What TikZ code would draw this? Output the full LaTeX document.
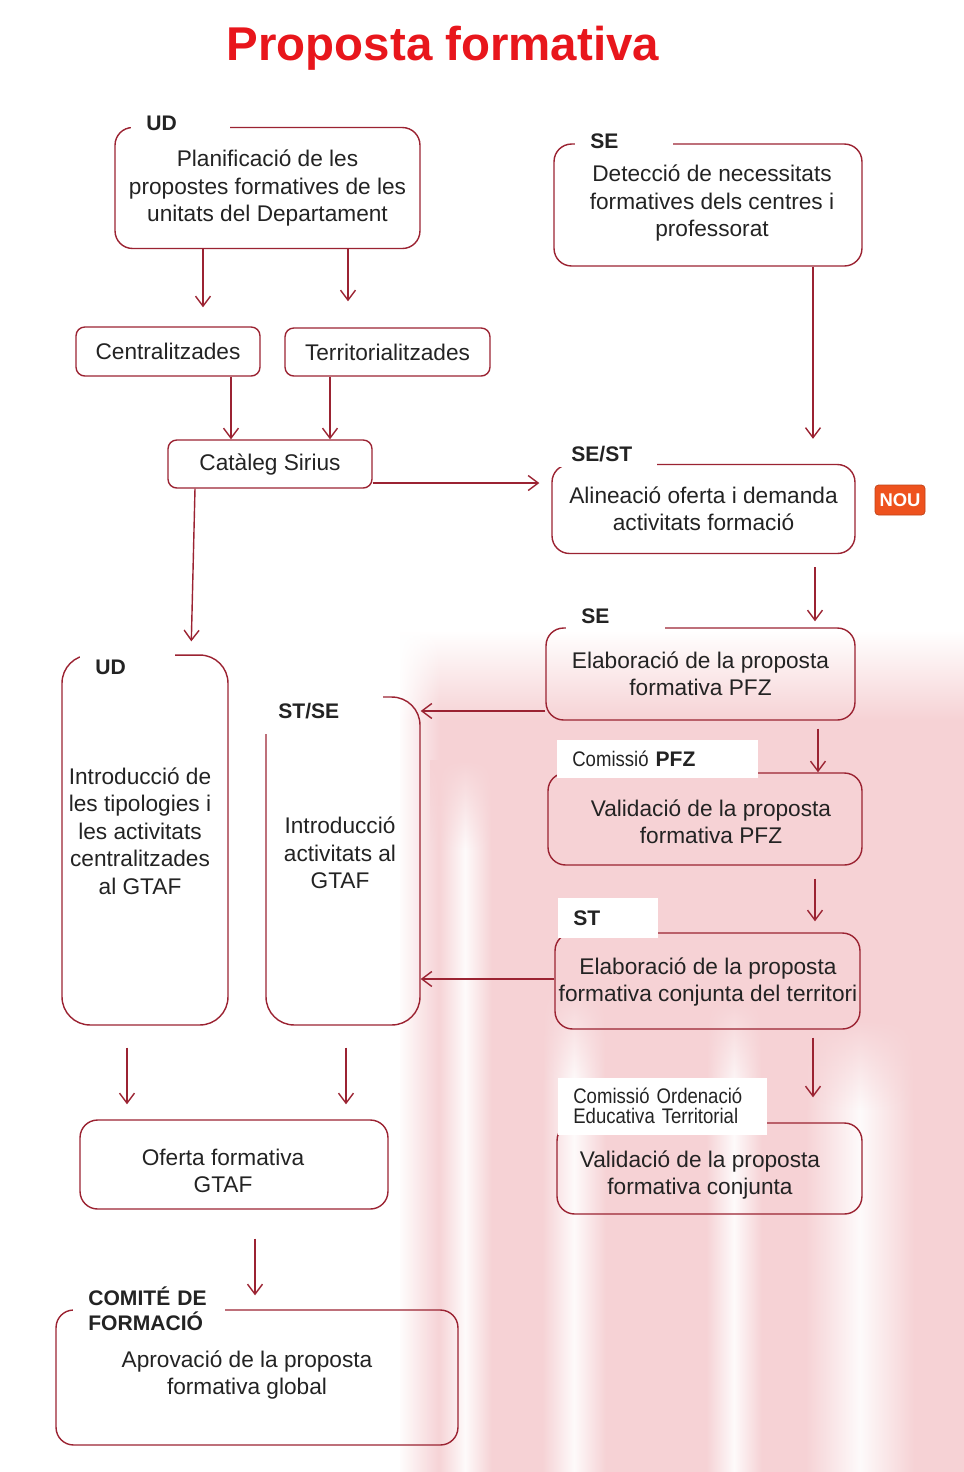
\documentclass[tikz,border=0pt]{standalone}
\usepackage{fontspec}
\setmainfont{Liberation Sans}
\newfontfamily\narrowsf[FakeStretch=0.88]{Liberation Sans}
\usetikzlibrary{arrows.meta,fadings}
\definecolor{boxred}{RGB}{155,35,50}
\definecolor{titred}{RGB}{232,22,28}
\definecolor{noufill}{RGB}{238,82,30}
\definecolor{txt}{RGB}{35,35,35}
\definecolor{wmpink}{RGB}{246,210,213}
\tikzfading[name=fadeleft, left color=transparent!0, right color=transparent!100]
\tikzfading[name=fadeup, top color=transparent!0, bottom color=transparent!100]
\tikzfading[name=fadeband, left color=transparent!100, right color=transparent!100, middle color=transparent!0]

\begin{document}
\begin{tikzpicture}[x=0.02cm,y=-0.02cm,
    box/.style={draw=boxred, line width=0.8pt, rounded corners=10pt, align=center, inner sep=0pt, text=txt, font=\fontsize{12.9}{15.6}\selectfont},
    small/.style={box, rounded corners=5pt},
    tall/.style={box, rounded corners=16pt},
    inbox/.style={align=center, inner sep=0pt, text=txt, font=\fontsize{12.9}{15.6}\selectfont},
    tab/.style={fill=white, inner xsep=0.3cm, inner ysep=3pt, align=left, anchor=west, text=txt, font=\fontsize{12}{14}\selectfont\bfseries},
    arr/.style={-{Straight Barb[length=2mm,width=3mm]}, draw=boxred, line width=0.8pt},
    streak/.style={fill=white, fill opacity=0.9, path fading=fadeband},
    streaktop/.style={fill=wmpink, path fading=fadeup}]

    \useasboundingbox (0,0) rectangle (964,1472);

    % fons
    \shade[top color=white, bottom color=wmpink] (400,630) rectangle (964,720);
    \fill[wmpink] (400,720) rectangle (964,1472);
    \fill[white, path fading=fadeleft] (398,630) rectangle (440,1472);
    \fill[streak] (438,760) rectangle (492,1472);
    \fill[streak] (542,990) rectangle (606,1472);
    \fill[streak] (706,1000) rectangle (762,1472);
    \fill[streak] (805,1020) rectangle (915,1472);
    \fill[streaktop] (430,760) rectangle (500,850);
    \fill[streaktop] (535,990) rectangle (615,1080);
    \fill[streaktop] (700,1000) rectangle (770,1090);
    \fill[streaktop] (800,1020) rectangle (920,1110);

    \node[text=titred, font=\fontsize{27}{30}\selectfont\bfseries] (title) at (443,48) {Proposta formativa};

    % columna esquerra
    \node[box, minimum width=6.10cm, minimum height=2.42cm] (plan) at (267.5,188) {Planificació de les\\propostes formatives de les\\unitats del Departament};
    \node[tab, text width=1.38cm] (tplan) at (131,123) {UD};

    \node[small, minimum width=3.68cm, minimum height=0.98cm] (cen) at (168,351.5) {Centralitzades};
    \node[small, minimum width=4.10cm, minimum height=0.96cm] (ter) at (387.5,352) {Territorialitzades};
    \node[small, minimum width=4.08cm, minimum height=0.96cm] (cat) at (270,464) {Catàleg Sirius};

    \node[tall, minimum width=3.32cm, minimum height=7.40cm] (intc) at (145,840) {};
    \node[inbox] (intct) at (140,831) {Introducció de\\les tipologies i\\les activitats\\centralitzades\\al GTAF};
    \node[tab, text width=1.30cm] (tintc) at (80,667) {UD};
    \node[tall, minimum width=3.08cm, minimum height=6.56cm] (intt) at (343,861) {};
    \node[inbox] (inttt) at (340,853) {Introducció\\activitats al\\GTAF};
    \node[tab, text width=1.80cm, minimum height=0.9cm] (tintt) at (263,711) {ST/SE};

    \node[box, minimum width=6.16cm, minimum height=1.78cm] (ofer) at (234,1164.5) {};
    \node[inbox] (ofert) at (223,1171) {Oferta formativa\\GTAF};
    \node[box, minimum width=8.04cm, minimum height=2.70cm] (apro) at (257,1377.5) {};
    \node[inbox] (aprot) at (247,1375) {Aprovació de la proposta\\formativa global};
    \node[tab, text width=2.44cm, minimum height=1.0cm] (tapro) at (73,1309) {COMITÉ DE\\FORMACIÓ};

    % columna dreta
    \node[box, minimum width=6.16cm, minimum height=2.44cm] (detec) at (708,205) {};
    \node[inbox] (detect) at (712,203) {Detecció de necessitats\\formatives dels centres i\\professorat};
    \node[tab, text width=1.36cm] (tdetec) at (575,141) {SE};

    \node[box, minimum width=6.06cm, minimum height=1.78cm] (alin) at (703.5,509) {Alineació oferta i demanda\\activitats formació};
    \node[tab, text width=1.42cm] (talin) at (556,454) {SE/ST};
    \node[fill=noufill, draw=noufill!80!black, line width=0.4pt, rounded corners=2pt, text=white, inner sep=0pt,
          minimum width=1.0cm, minimum height=0.6cm, font=\fontsize{10.5}{12}\selectfont\bfseries] (nou) at (900,500) {NOU};

    \node[box, minimum width=6.18cm, minimum height=1.84cm] (elab) at (700.5,674) {Elaboració de la proposta\\formativa PFZ};
    \node[tab, text width=1.38cm] (telab) at (566,616) {SE};

    \node[box, minimum width=6.28cm, minimum height=1.84cm] (valp) at (705,819) {};
    \node[inbox] (valpt) at (711,822) {Validació de la proposta\\formativa PFZ};
    \node[tab, text width=3.42cm, minimum height=0.76cm, font=\fontsize{12}{14}\selectfont] (tvalp) at (557,759) {{\narrowsf Comissió} \textbf{PFZ}};

    \node[box, minimum width=6.10cm, minimum height=1.92cm] (elabc) at (707.5,981) {};
    \node[inbox] (elabct) at (708,982) {Elaboració de la proposta\\formativa conjunta del territori};
    \node[tab, text width=1.40cm, minimum height=0.8cm] (telabc) at (558,918) {ST};

    \node[box, minimum width=6.10cm, minimum height=1.82cm] (valc) at (709.5,1168.5) {};
    \node[inbox] (valct) at (700,1175) {Validació de la proposta\\formativa conjunta};
    \node[tab, text width=3.58cm, minimum height=1.14cm, font=\fontsize{12}{11.2}\narrowsf] (tvalc) at (558,1106) {Comissió Ordenació\\Educativa Territorial};

    % fletxes
    \draw[arr, shorten >=0.38cm] (plan.south -| 203,0) -- (cen.north -| 203,0);
    \draw[arr, shorten >=0.52cm] (plan.south -| 348,0) -- (ter.north -| 348,0);
    \draw[arr] (cen.south -| 231,0) -- (cat.north -| 231,0);
    \draw[arr] (ter.south -| 330,0) -- (cat.north -| 330,0);
    \draw[arr, shorten >=0.5cm] (detec.south -| 813,0) -- (alin.north -| 813,0);
    \draw[arr, shorten >=0.24cm] (cat.east |- 0,483) -- (alin.west |- 0,483);
    \draw[arr, shorten >=0.26cm] (cat.south -| 195,0) -- (intc.north -| 191,0);
    \draw[arr, shorten <=0.26cm, shorten >=0.12cm] (alin.south -| 815,0) -- (elab.north -| 815,0);
    \draw[arr] (elab.west |- 0,711) -- (intt.east |- 0,711);
    \draw[arr, shorten <=0.16cm] (elab.south -| 818,0) -- (valp.north -| 818,0);
    \draw[arr, shorten <=0.26cm, shorten >=0.22cm] (valp.south -| 815,0) -- (elabc.north -| 815,0);
    \draw[arr] (elabc.west |- 0,979) -- (intt.east |- 0,979);
    \draw[arr, shorten <=0.16cm, shorten >=0.5cm] (elabc.south -| 813,0) -- (valc.north -| 813,0);
    \draw[arr, shorten <=0.44cm, shorten >=0.3cm] (intc.south -| 127,0) -- (ofer.north -| 127,0);
    \draw[arr, shorten <=0.44cm, shorten >=0.3cm] (intt.south -| 346,0) -- (ofer.north -| 346,0);
    \draw[arr, shorten <=0.58cm, shorten >=0.28cm] (ofer.south -| 255,0) -- (apro.north -| 255,0);
\end{tikzpicture}
\end{document}
